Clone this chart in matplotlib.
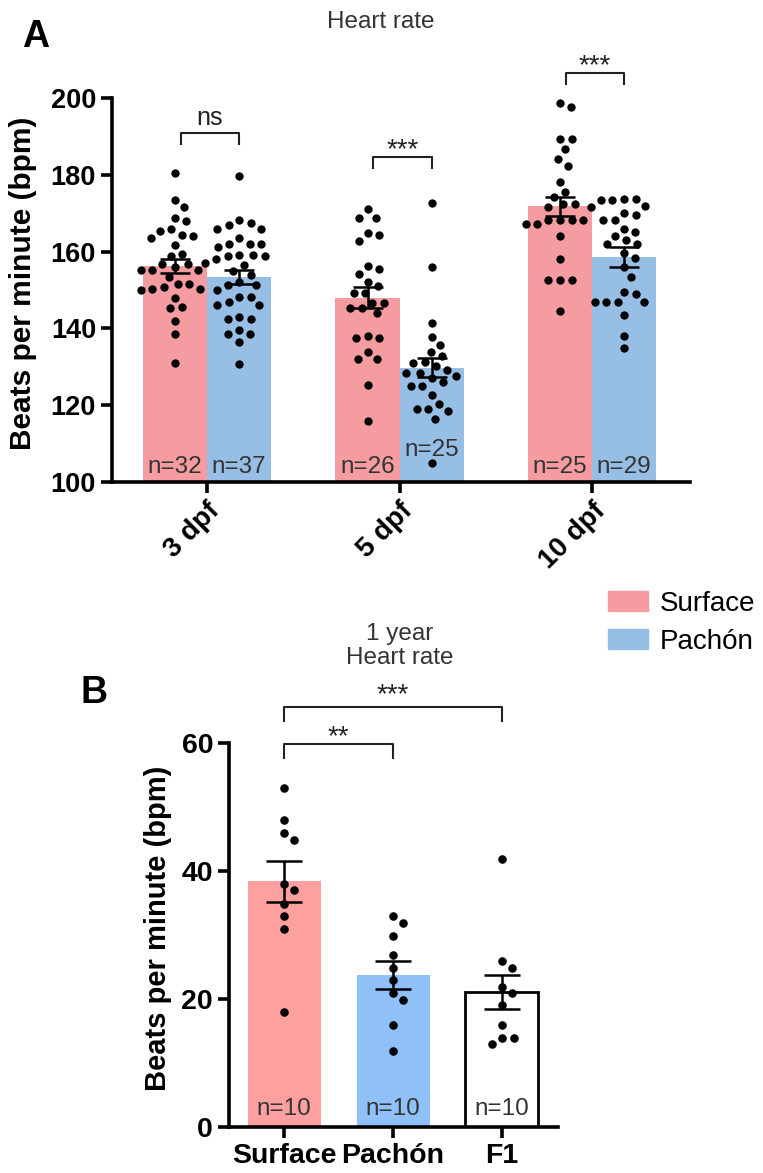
import numpy as np
import matplotlib
matplotlib.use("Agg")
import matplotlib.pyplot as plt
from matplotlib.patches import Patch

plt.rcParams['font.family'] = ['Liberation Sans', 'DejaVu Sans']

# ---- panel A data (heart rate, larvae) ----
stages = ['3 dpf', '5 dpf', '10 dpf']
surface_mean = [156.2, 148.0, 171.8]
surface_sem = [1.9, 2.8, 2.45]
pachon_mean = [153.4, 129.8, 158.7]
pachon_sem = [1.75, 2.55, 2.6]
surface_n = [32, 26, 25]
pachon_n = [37, 25, 29]

surf3 = [180.5, 173.4, 171.5, 168.8, 168.0, 165.9, 165.4, 164.4, 164.1, 163.5, 161.8,
         159.4, 158.8, 156.7, 156.7, 156.0, 155.3, 155.1, 155.1, 153.5, 151.5, 151.5,
         150.7, 150.3, 150.3, 149.9, 148.0, 145.5, 145.3, 142.0, 138.6, 130.9]
pach3 = [179.6, 168.1, 167.5, 166.8, 166.0, 166.0, 163.5, 162.1, 162.1, 162.1, 161.2,
         159.2, 159.2, 158.8, 158.8, 158.1, 157.0, 156.4, 155.0, 154.0, 152.0, 151.2,
         151.2, 150.0, 148.1, 148.1, 146.8, 146.0, 146.0, 142.9, 142.5, 142.5, 139.6,
         138.6, 138.6, 136.4, 130.7]
surf5 = [171.0, 168.8, 168.8, 164.9, 164.4, 162.7, 156.2, 155.4, 154.2, 152.2, 151.0,
         149.2, 149.2, 146.7, 146.7, 145.2, 145.2, 143.9, 138.1, 137.4, 137.4, 133.8,
         132.0, 132.0, 125.2, 115.9]
pach5 = [172.7, 156.1, 141.3, 137.7, 135.7, 133.8, 132.7, 131.3, 131.0, 130.2, 129.2,
         128.5, 128.5, 127.5, 127.0, 126.1, 125.1, 125.1, 122.7, 120.3, 119.0, 119.0,
         118.4, 116.5, 105.0]
surf10 = [198.6, 197.6, 189.3, 189.3, 186.6, 184.2, 182.4, 178.2, 175.4, 174.2, 172.3,
          172.3, 171.5, 168.1, 168.1, 168.1, 168.1, 167.1, 167.1, 164.0, 158.0, 152.5,
          152.5, 152.5, 144.6]
pach10 = [173.8, 173.8, 173.4, 173.4, 172.0, 171.6, 170.0, 169.6, 168.1, 168.1, 166.0,
          165.1, 164.0, 163.0, 161.9, 161.9, 159.6, 158.3, 156.0, 153.5, 149.6, 149.0,
          147.0, 147.0, 147.0, 147.0, 143.6, 138.0, 134.9]
stars_a = ['ns', '***', '***']

# ---- panel B data (1 year adults) ----
groups_b = ['Surface', 'Pachón', 'F1']
mean_b = [38.4, 23.75, 21.1]
sem_b = [3.2, 2.2, 2.7]
n_b = [10, 10, 10]
surf_b = [53.0, 47.9, 45.9, 44.9, 38.0, 37.0, 34.9, 32.9, 30.9, 18.0]
pach_b = [33.0, 31.9, 29.9, 26.9, 24.9, 22.9, 20.9, 19.9, 15.9, 11.9]
f1_b = [41.9, 25.9, 24.9, 21.9, 20.9, 19.0, 15.9, 13.9, 13.9, 12.9]

pinkA = '#F49CA0'
blueA = '#97BEE4'
pinkB = '#FFA0A0'
blueB = '#90C0F8'


def swarm(ax, xc, vals, d=11.7):
    # simple beeswarm in pixel space, back to data coords
    pts = ax.transData.transform([(xc, v) for v in vals])
    placed = []
    for px, py in pts:
        cands = [0.0]
        for qx, qy in placed:
            dy = abs(qy - py)
            if dy < d:
                dx = np.sqrt(d * d - dy * dy)
                cands += [qx - px + dx, qx - px - dx]
        cands.sort(key=abs)
        for c in cands:
            ok = all((qx - (px + c)) ** 2 + (qy - py) ** 2 >= d * d - 1e-6 for qx, qy in placed)
            if ok:
                placed.append((px + c, py))
                break
    back = ax.transData.inverted().transform(placed)
    return back[:, 0], back[:, 1]


def bracket(ax, x1, x2, top, leg, txt, ty, size, va='baseline'):
    ax.plot([x1, x1, x2, x2], [top - leg, top, top, top - leg], color='#222222',
            lw=1.5, clip_on=False, zorder=5)
    ax.text((x1 + x2) / 2, ty, txt, ha='center', va=va, fontsize=size, color='#222222')


def style(ax):
    for s in ['top', 'right']:
        ax.spines[s].set_visible(False)
    for s in ['left', 'bottom']:
        ax.spines[s].set_linewidth(2.6)
    ax.tick_params(width=2.6, length=8, labelsize=19.5)
    for lab in ax.get_yticklabels():
        lab.set_fontweight('bold')


fig = plt.figure(figsize=(7.63, 11.73), dpi=100)

# ------------------- panel A -------------------
ax = fig.add_axes([112 / 763, 1 - 482 / 1173, 578 / 763, 384 / 1173])
ax.set_xlim(-0.494, 2.509)
ax.set_ylim(100, 200)
ax.set_yticks([100, 120, 140, 160, 180, 200])
style(ax)
ax.set_xticks(range(3))
ax.set_xticklabels(stages, rotation=45, ha='right', va='top', rotation_mode='anchor',
                   fontweight='bold', fontsize=20)

w = 0.333
xs = np.arange(3)
ax.bar(xs - w / 2, surface_mean, width=w, color=pinkA, zorder=1)
ax.bar(xs + w / 2, pachon_mean, width=w, color=blueA, zorder=1)

surf_all = [surf3, surf5, surf10]
pach_all = [pach3, pach5, pach10]
for i in range(3):
    for xc, vals in [(i - w / 2, surf_all[i]), (i + w / 2, pach_all[i])]:
        px, py = swarm(ax, xc, vals)
        ax.scatter(px, py, s=36, color='black', zorder=3, linewidths=0)
ax.errorbar(xs - w / 2, surface_mean, yerr=surface_sem, fmt='none', ecolor='black',
            elinewidth=1.8, capsize=11, capthick=1.8, zorder=4)
ax.errorbar(xs + w / 2, pachon_mean, yerr=pachon_sem, fmt='none', ecolor='black',
            elinewidth=1.8, capsize=11, capthick=1.8, zorder=4)

# n labels; the 5 dpf Pachón one sits higher, above the lowest dot
surface_n_y = [102.4, 102.4, 102.4]
pachon_n_y = [102.4, 106.8, 102.4]
for i in range(3):
    ax.text(i - w / 2, surface_n_y[i], 'n=%d' % surface_n[i], ha='center', va='baseline',
            fontsize=17.5, color='#333333', zorder=6)
    ax.text(i + w / 2, pachon_n_y[i], 'n=%d' % pachon_n[i], ha='center', va='baseline',
            fontsize=17.5, color='#333333', zorder=6)

bracket(ax, -w / 2 + 0.03, w / 2, 190.9, 3.0, stars_a[0], 193.0, 18)
bracket(ax, 1 - w / 2 + 0.03, 1 + w / 2, 184.7, 3.0, stars_a[1], 184.6, 20)
bracket(ax, 2 - w / 2 + 0.03, 2 + w / 2, 206.6, 3.0, stars_a[2], 206.5, 20)

ax.set_ylabel('Beats per minute (bpm)', fontsize=21.5, fontweight='bold')
ax.yaxis.set_label_coords(-0.13, 0.517)

fig.text(36 / 763, 1 - 37 / 1173, 'A', fontsize=27, fontweight='bold', ha='center', va='center')
fig.text(381 / 763, 1 - 22 / 1173, 'Heart rate', fontsize=17.5, ha='center', va='center',
         color='#333333')

fig.legend(handles=[Patch(color=pinkA), Patch(color=blueA)], labels=['Surface', 'Pachón'],
           loc='upper left', bbox_to_anchor=(608 / 763, 1 - 591 / 1173), frameon=False,
           fontsize=20, handlelength=1.45, handleheight=0.72, handletextpad=0.4,
           labelspacing=0.42, borderpad=0, borderaxespad=0)

# ------------------- panel B -------------------
bx = fig.add_axes([229 / 763, 1 - 1127 / 1173, 329 / 763, 384 / 1173])
bx.set_xlim(-0.505, 2.514)
bx.set_ylim(0, 60)
bx.set_yticks([0, 20, 40, 60])
style(bx)
bx.tick_params(labelsize=20.5)
bx.set_xticks(range(3))
bx.set_xticklabels(groups_b, fontweight='bold', fontsize=20.5)

wb = 0.67
bx.bar([0, 1], mean_b[:2], width=wb, color=[pinkB, blueB], zorder=1)
bx.bar([2], mean_b[2:], width=wb, color='white', edgecolor='black', linewidth=2, zorder=1)
for i, vals in enumerate([surf_b, pach_b, f1_b]):
    px, py = swarm(bx, i, vals, d=12)
    bx.scatter(px, py, s=38, color='black', zorder=3, linewidths=0)
bx.errorbar(range(3), mean_b, yerr=sem_b, fmt='none', ecolor='black', elinewidth=1.8,
            capsize=13, capthick=1.8, zorder=4)
for i in range(3):
    bx.text(i, 1.8, 'n=%d' % n_b[i], ha='center', va='baseline', fontsize=17.5,
            color='#333333', zorder=6)

bracket(bx, 0, 1, 59.8, 2.2, '**', 59.8, 20)
bracket(bx, 0, 2, 65.6, 2.1, '***', 66.4, 20)

bx.set_ylabel('Beats per minute (bpm)', fontsize=21, fontweight='bold')
bx.yaxis.set_label_coords(-0.173, 0.518)

fig.text(94 / 763, 1 - 693 / 1173, 'B', fontsize=27, fontweight='bold', ha='center', va='center')
fig.text(400 / 763, 1 - 646 / 1173, '1 year\nHeart rate', fontsize=17.5, ha='center',
         va='center', color='#333333', linespacing=1.1)

fig.savefig('out.png', dpi=100)
